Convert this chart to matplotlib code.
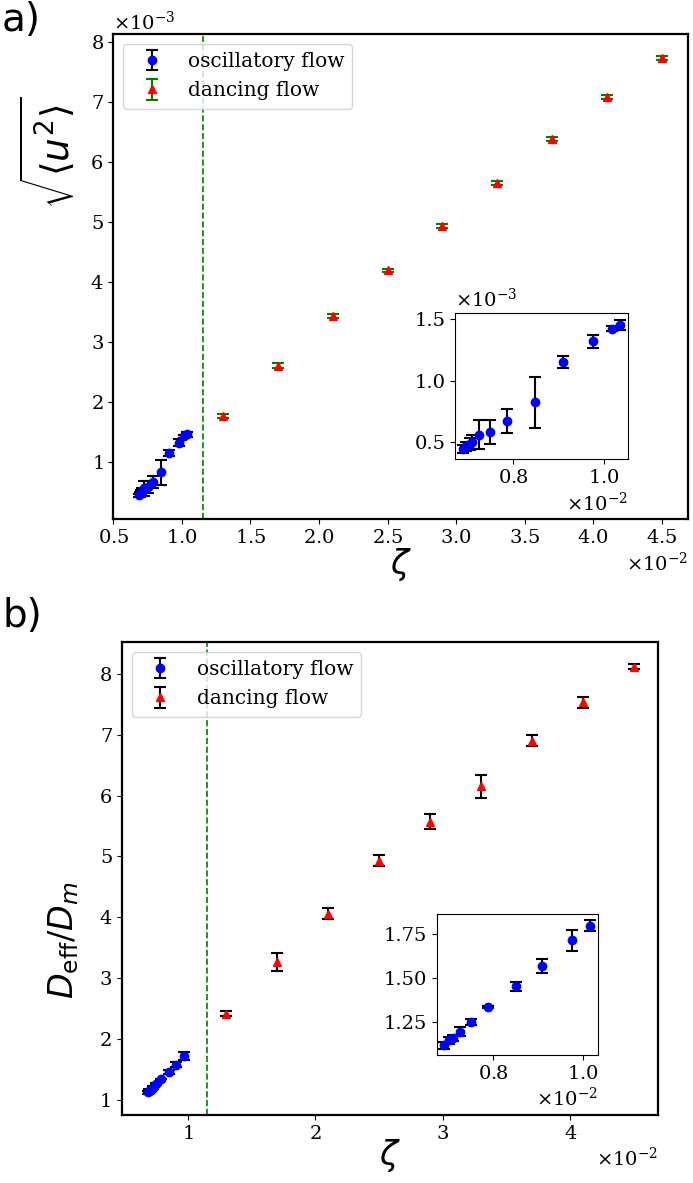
import numpy as np
import matplotlib
matplotlib.use('Agg')
import matplotlib.pyplot as plt
from matplotlib.ticker import MultipleLocator, FuncFormatter

plt.rcParams['font.family'] = 'DejaVu Serif'
plt.rcParams['mathtext.fontset'] = 'custom'
plt.rcParams['mathtext.rm'] = 'DejaVu Serif'
plt.rcParams['mathtext.it'] = 'DejaVu Sans:italic'
plt.rcParams['mathtext.sf'] = 'DejaVu Sans'
plt.rcParams['mathtext.bf'] = 'DejaVu Serif:bold'

# ---- panel a data (zeta in 1e-2, rms velocity in 1e-3) ----
zeta_osc_a = np.array([0.690, 0.697, 0.705, 0.711, 0.725, 0.749, 0.787, 0.849, 0.909, 0.975, 1.018, 1.035]) * 1e-2
u_osc = np.array([0.439, 0.460, 0.480, 0.495, 0.555, 0.578, 0.667, 0.822, 1.153, 1.320, 1.425, 1.456]) * 1e-3
u_osc_err = np.array([0.030, 0.040, 0.050, 0.060, 0.120, 0.095, 0.100, 0.210, 0.050, 0.055, 0.020, 0.040]) * 1e-3

zeta_dance = np.array([1.3, 1.7, 2.1, 2.5, 2.9, 3.3, 3.7, 4.1, 4.5]) * 1e-2
u_dance = np.array([1.76, 2.60, 3.43, 4.19, 4.93, 5.65, 6.38, 7.08, 7.73]) * 1e-3
u_dance_err = np.array([0.03, 0.04, 0.03, 0.03, 0.03, 0.03, 0.03, 0.03, 0.03]) * 1e-3

# ---- panel b data (D_eff / D_m) ----
zeta_osc_b = np.array([0.690, 0.700, 0.709, 0.725, 0.750, 0.788, 0.850, 0.909, 0.974, 1.016]) * 1e-2
D_osc = np.array([1.120, 1.147, 1.160, 1.196, 1.250, 1.337, 1.455, 1.570, 1.716, 1.800])
D_osc_err = np.array([0.020, 0.020, 0.018, 0.025, 0.016, 0.005, 0.026, 0.041, 0.061, 0.029])

D_dance = np.array([2.413, 3.266, 4.054, 4.93, 5.57, 6.15, 6.90, 7.53, 8.12])
D_dance_err = np.array([0.043, 0.152, 0.092, 0.095, 0.12, 0.19, 0.087, 0.087, 0.046])

zeta_c = 1.15e-2

W, H = 693, 1183
fig = plt.figure(figsize=(W / 100, H / 100), dpi=100)

def px_axes(l, t, r, b):
    return fig.add_axes([l / W, 1 - b / H, (r - l) / W, (b - t) / H])

TICK = 14
LEG = 14.5
LAB = 24
eb_kw = dict(linestyle='none', capsize=4, elinewidth=1.5, capthick=1.5, markersize=6)

def sci(ax):
    ax.ticklabel_format(style='sci', scilimits=(0, 0), useMathText=True)
    ax.tick_params(labelsize=TICK)
    ax.xaxis.get_offset_text().set_fontsize(TICK)
    ax.yaxis.get_offset_text().set_fontsize(TICK)

# ================= panel a =================
ax = px_axes(113.3, 34.3, 688, 519.3)
ax.errorbar(zeta_osc_a, u_osc, yerr=u_osc_err, fmt='o', color='blue', ecolor='black',
            label='oscillatory flow', **eb_kw)
ax.errorbar(zeta_dance, u_dance, yerr=u_dance_err, fmt='^', color='red', ecolor='green',
            label='dancing flow', **eb_kw)
ax.axvline(zeta_c, color='green', linestyle='--', linewidth=1.2)
sci(ax)
ax.xaxis.set_major_locator(MultipleLocator(0.5e-2))
ax.yaxis.set_major_locator(MultipleLocator(1e-3))
ax.set_xlabel(r'$\zeta$', fontsize=LAB, labelpad=-1)
ax.set_ylabel(r'$\sqrt{\langle u^{\mathsf{2}}\rangle}$', fontsize=27)
ax.yaxis.set_label_coords(-0.06, 0.755)
for s in ax.spines.values():
    s.set_linewidth(1.6)
ax.legend(loc='upper left', fontsize=LEG)

ins = px_axes(455, 313.3, 628, 459.3)
ins.errorbar(zeta_osc_a, u_osc, yerr=u_osc_err, fmt='o', color='blue', ecolor='black', **eb_kw)
sci(ins)
ins.xaxis.set_major_locator(MultipleLocator(0.2e-2))
ins.yaxis.set_major_locator(MultipleLocator(0.5e-3))
ins.yaxis.set_major_formatter(FuncFormatter(lambda v, p: '%.1f' % (v * 1e3)))
ins.text(0.0, 1.02, r'$\times\mathregular{10^{-3}}$', transform=ins.transAxes,
         fontsize=TICK, va='bottom', ha='left')

fig.text(2 / W, 1 - 31 / H, 'a)', fontsize=28, family='DejaVu Sans')

# ================= panel b =================
bx = px_axes(122, 642.3, 658.3, 1115)
bx.errorbar(zeta_osc_b[:-1], D_osc[:-1], yerr=D_osc_err[:-1], fmt='o', color='blue', ecolor='black',
            label='oscillatory flow', **eb_kw)
bx.errorbar(zeta_dance, D_dance, yerr=D_dance_err, fmt='^', color='red', ecolor='black',
            label='dancing flow', **eb_kw)
bx.axvline(zeta_c, color='green', linestyle='--', linewidth=1.2)
bx.ticklabel_format(axis='x', style='sci', scilimits=(0, 0), useMathText=True)
bx.tick_params(labelsize=TICK)
bx.xaxis.get_offset_text().set_fontsize(TICK)
bx.xaxis.set_major_locator(MultipleLocator(1e-2))
bx.yaxis.set_major_locator(MultipleLocator(1))
bx.set_xlim(0.485e-2, 4.69e-2)
bx.set_xlabel(r'$\zeta$', fontsize=LAB, labelpad=-4)
bx.set_ylabel(r'$D_{\mathsf{eff}}/D_m$', fontsize=LAB)
bx.yaxis.set_label_coords(-0.077, 0.37)
for s in bx.spines.values():
    s.set_linewidth(1.6)
bx.legend(loc='upper left', fontsize=LEG)

insb = px_axes(436.7, 914, 597.7, 1055)
insb.errorbar(zeta_osc_b, D_osc, yerr=D_osc_err, fmt='o', color='blue', ecolor='black', **eb_kw)
insb.ticklabel_format(axis='x', style='sci', scilimits=(0, 0), useMathText=True)
insb.tick_params(labelsize=TICK)
insb.xaxis.get_offset_text().set_fontsize(TICK)
insb.xaxis.set_major_locator(MultipleLocator(0.2e-2))
insb.yaxis.set_major_locator(MultipleLocator(0.25))

fig.text(2 / W, 1 - 627 / H, 'b)', fontsize=28, family='DejaVu Sans')

fig.savefig('out.png', dpi=100)
